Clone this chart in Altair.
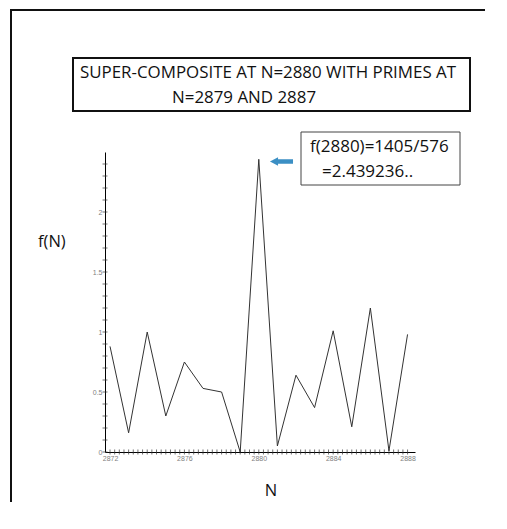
import altair as alt
import pandas as pd

# ---- data ----
n_values = [2872, 2873, 2874, 2875, 2876, 2877, 2878, 2879, 2880,
            2881, 2882, 2883, 2884, 2885, 2886, 2887, 2888]
f_values = [0.88, 0.16, 1.00, 0.30, 0.75, 0.53, 0.50, 0.00, 2.439236,
            0.05, 0.64, 0.37, 1.01, 0.21, 1.20, 0.01, 0.98]
x_label_values = [2872, 2874, 2876, 2878, 2880, 2882, 2884, 2886, 2888]
y_label_values = [0, 0.5, 1, 1.5, 2]
x_tick_values = [2872 + 0.25 * i for i in range(65)]
y_tick_values = [round(0.1 * i, 1) for i in range(25)]

title_line1 = "SUPER-COMPOSITE AT N=2880 WITH PRIMES AT"
title_line2 = "N=2879 AND 2887"
annot_line1 = "f(2880)=1405/576"
annot_line2 = "=2.439236.."
y_title = "f(N)"
x_title = "N"

FONT = "Open Sans"

df = pd.DataFrame({"N": n_values, "f": f_values})
dummy = pd.DataFrame({"d": [0]})

xscale = alt.Scale(domain=[2871.73, 2888.4], nice=False, zero=False)
yscale = alt.Scale(domain=[0, 2.5], nice=False)

line = alt.Chart(df).mark_line(color="#333333", strokeWidth=1).encode(
    x=alt.X("N:Q", scale=xscale, title=None,
            axis=alt.Axis(values=x_label_values, ticks=False, grid=False,
                          domainColor="#000000", domainWidth=1,
                          labelFontSize=7, labelColor="#808080",
                          labelPadding=2, format="d", labelFont="Arial",
                          labelOverlap=False)),
    y=alt.Y("f:Q", scale=yscale, title=None,
            axis=alt.Axis(values=y_label_values, ticks=False, grid=False,
                          domainColor="#000000", domainWidth=1,
                          labelFontSize=7, labelColor="#808080",
                          labelPadding=3, labelFont="Arial", format="~g",
                          labelOverlap=False)),
)

xticks = alt.Chart(pd.DataFrame({"t": x_tick_values})).mark_tick(
    color="#333333", thickness=1, size=5, orient="vertical"
).encode(x=alt.X("t:Q", scale=xscale), y=alt.value(300))

yticks = alt.Chart(pd.DataFrame({"t": y_tick_values})).mark_tick(
    color="#333333", thickness=1, size=5, orient="horizontal"
).encode(y=alt.Y("t:Q", scale=yscale), x=alt.value(0))

base = alt.Chart(dummy)

outer_left = base.mark_rect(fill="#111111", strokeWidth=0).encode(
    x=alt.value(-95), x2=alt.value(-93), y=alt.value(-143), y2=alt.value(350))
outer_top = base.mark_rect(fill="#111111", strokeWidth=0).encode(
    x=alt.value(-95), x2=alt.value(380), y=alt.value(-143), y2=alt.value(-141))

title_box = base.mark_rect(fill="white", stroke="#111111", strokeWidth=2).encode(
    x=alt.value(-32), x2=alt.value(365), y=alt.value(-94), y2=alt.value(-41))

annot_box = base.mark_rect(fill="white", stroke="#444444", strokeWidth=1).encode(
    x=alt.value(196), x2=alt.value(355), y=alt.value(-20), y2=alt.value(33))

def txt(s, x, y, size, align="left"):
    return base.mark_text(text=s, font=FONT, fontSize=size, color="#111111",
                          align=align, baseline="middle").encode(
        x=alt.value(x), y=alt.value(y))

arrow = base.mark_point(
    shape="M -1 0 L -0.3 -0.36 L -0.3 -0.2 L 1 -0.2 L 1 0.2 L -0.3 0.2 L -0.3 0.36 Z",
    filled=True, color="#3b8fc4", opacity=1, size=530, strokeWidth=0
).encode(x=alt.value(176.5), y=alt.value(9.5))

chart = alt.layer(
    outer_left, outer_top, title_box, annot_box, line, xticks, yticks, arrow,
    txt(title_line1, -25, -79, 16.9),
    txt(title_line2, 67, -54, 16.9),
    txt(annot_line1, 205, -5, 17),
    txt(annot_line2, 217, 20, 17),
    txt(y_title, -67, 90, 16.5),
    txt(x_title, 166, 339, 16.5, align="center"),
).properties(
    width=310, height=300, background="white",
    padding={"left": 97, "top": 144, "right": 84, "bottom": 60},
    autosize=alt.AutoSizeParams(type="none"),
).configure_view(strokeWidth=0, stroke=None)

chart.save("out.html", embed_options={"renderer": "svg", "actions": False})
